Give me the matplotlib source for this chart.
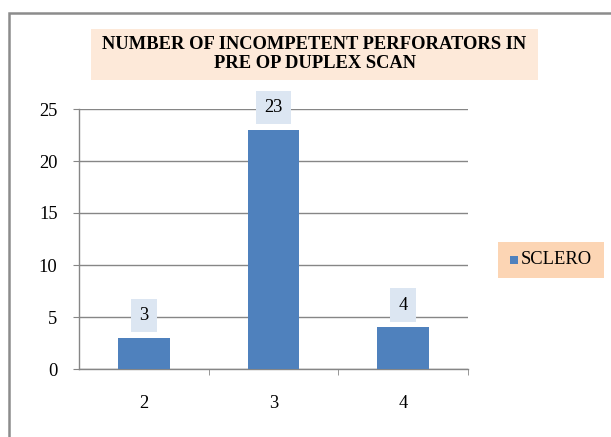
import matplotlib
matplotlib.use("Agg")
import matplotlib.pyplot as plt
from matplotlib.patches import Rectangle

categories = ["2", "3", "4"]
values = [3, 23, 4]
series_name = "SCLERO"
title = "NUMBER OF INCOMPETENT PERFORATORS IN\nPRE OP DUPLEX SCAN"
yticks = [0, 5, 10, 15, 20, 25]

W, H = 611, 437
FS = 13.3
plt.rcParams['font.family'] = ['Liberation Serif', 'DejaVu Serif']
fig = plt.figure(figsize=(W / 100, H / 100), dpi=100)

def px(x0, y0, x1, y1):
    return [x0 / W, 1 - y1 / H, (x1 - x0) / W, (y1 - y0) / H]

# outer border (only top and left visible)
fig.patches.append(Rectangle((9 / W, -0.1), 1.2, (H - 13) / H + 0.1, transform=fig.transFigure,
                             fill=False, ec='#8c8c8c', lw=1.8))

ax = fig.add_axes(px(79, 109, 468, 369))
x = list(range(len(categories)))
bars = ax.bar(x, values, width=0.4, color='#4f81bd', label=series_name, zorder=3)
ax.set_xlim(-0.5, len(categories) - 0.5)
ax.set_ylim(0, 25)
ax.set_yticks(yticks)
ax.yaxis.grid(True, color='#868686', lw=1, zorder=0)
ax.set_xticks(x)
ax.set_xticklabels(categories)
ax.set_xticks([i + 0.5 for i in range(len(categories))], minor=True)
ax.tick_params(axis='x', which='major', length=0, pad=19, labelsize=FS)
ax.tick_params(axis='x', which='minor', length=4, color='#868686', direction='out')
ax.tick_params(axis='y', length=4.5, color='#868686', labelsize=FS, pad=11)
for s in ['top', 'right']:
    ax.spines[s].set_visible(False)
for s in ['left', 'bottom']:
    ax.spines[s].set_color('#868686')
    ax.spines[s].set_linewidth(1)

for xi, v in zip(x, values):
    ax.annotate(str(v), (xi, v), xytext=(0, 16), textcoords='offset points',
                ha='center', va='center', fontsize=FS, zorder=5,
                bbox=dict(boxstyle='square,pad=0.45', fc='#dce6f2', ec='none'))

# title box
fig.patches.append(Rectangle((91 / W, 1 - 80 / H), (538 - 91) / W, (80 - 29) / H,
                             transform=fig.transFigure, fc='#fde9d9', ec='none'))
fig.text((91 + 538) / 2 / W, 1 - 54 / H, title, ha='center', va='center',
         fontsize=FS, fontweight='bold', linespacing=1.08)

# legend
fig.patches.append(Rectangle((498 / W, 1 - 278 / H), (604 - 498) / W, (278 - 242) / H,
                             transform=fig.transFigure, fc='#fcd5b4', ec='none'))
fig.patches.append(Rectangle((510 / W, 1 - 264 / H), 8 / W, 8 / H,
                             transform=fig.transFigure, fc='#4f81bd', ec='none'))
fig.text(521 / W, 1 - 260 / H, series_name, ha='left', va='center', fontsize=FS)

fig.savefig("out.png", dpi=100)
